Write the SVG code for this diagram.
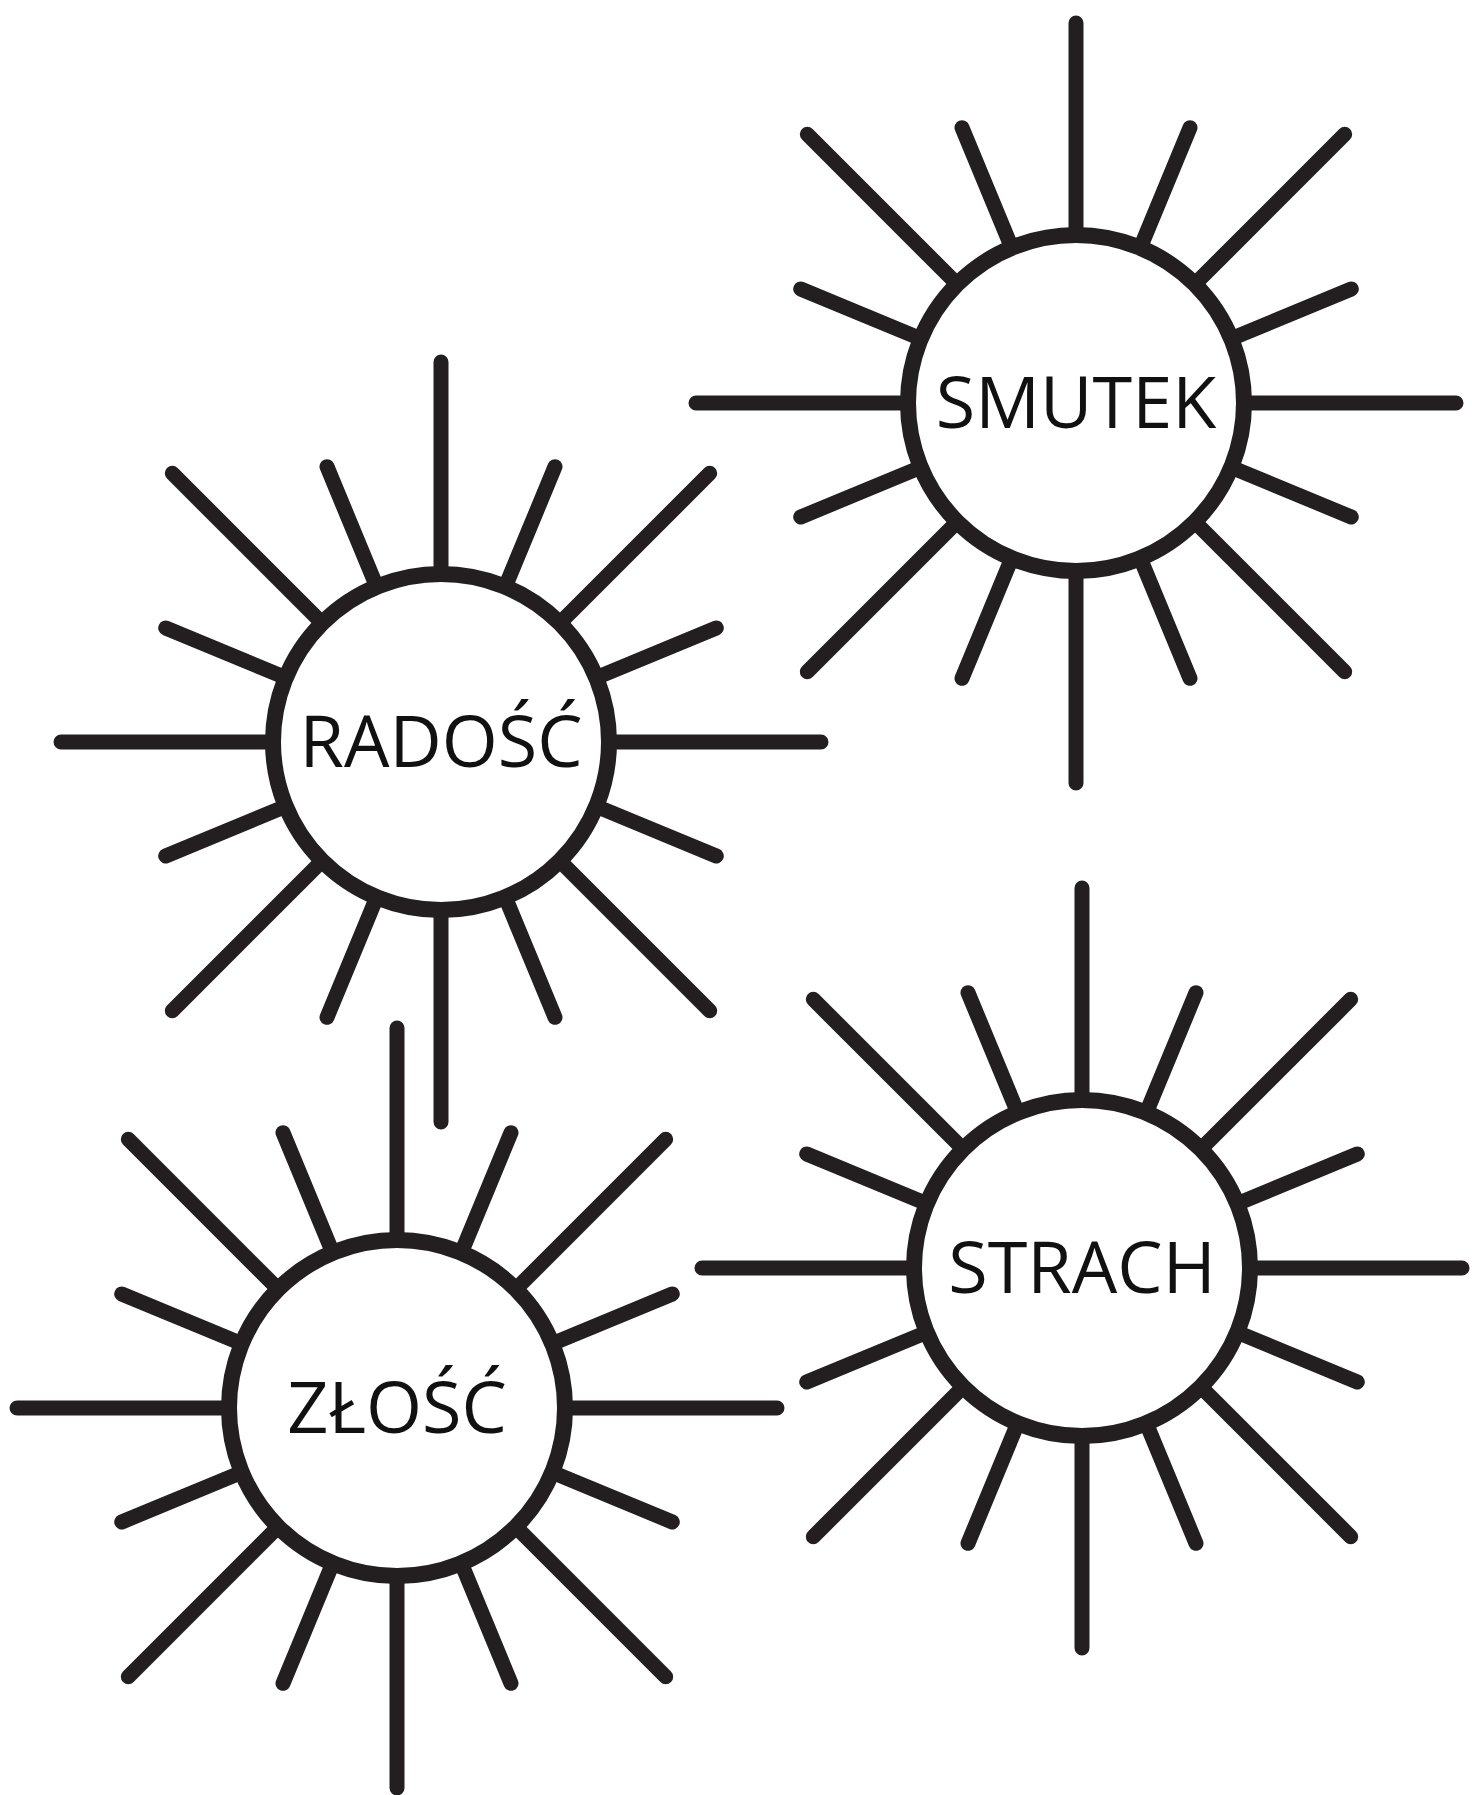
<svg xmlns="http://www.w3.org/2000/svg" xmlns:xlink="http://www.w3.org/1999/xlink" width="1472" height="1795" viewBox="0 0 1472 1795">
  <style>
    .ray { fill: none; stroke: #231f20; stroke-width: 15; stroke-linecap: round; }
    .disc { fill: #ffffff; stroke: #231f20; stroke-width: 16; }
    .label { font-family: "Open Sans", "Noto Sans", "Liberation Sans", sans-serif; font-weight: 400; font-size: 72px; fill: #111111; text-anchor: middle; }
  </style>
  <defs>
    <path id="rays" class="ray" d="M165,0L380,0 M-165,0L-380,0 M0,165L0,380 M0,-165L0,-380
      M116.7,116.7L268.7,268.7 M-116.7,116.7L-268.7,268.7 M116.7,-116.7L268.7,-268.7 M-116.7,-116.7L-268.7,-268.7
      M152.4,63.1L275.3,114.0 M-152.4,63.1L-275.3,114.0 M152.4,-63.1L275.3,-114.0 M-152.4,-63.1L-275.3,-114.0
      M63.1,152.4L114.0,275.3 M-63.1,152.4L-114.0,275.3 M63.1,-152.4L114.0,-275.3 M-63.1,-152.4L-114.0,-275.3"/>
  </defs>
  <rect width="1472" height="1795" fill="#ffffff"/>
  <g id="connectors"/>
  <g id="smutek" transform="translate(1076,403)">
    <use xlink:href="#rays" href="#rays"/>
    <circle class="disc" cx="0" cy="0" r="168"/>
    <text class="label" x="0" y="25">SMUTEK</text>
  </g>
  <g id="radosc" transform="translate(441,742)">
    <use xlink:href="#rays" href="#rays"/>
    <circle class="disc" cx="0" cy="0" r="168"/>
    <text class="label" x="0" y="25">RADOŚĆ</text>
  </g>
  <g id="zlosc" transform="translate(397,1408)">
    <use xlink:href="#rays" href="#rays"/>
    <circle class="disc" cx="0" cy="0" r="168"/>
    <text class="label" x="0" y="25">ZŁOŚĆ</text>
  </g>
  <g id="strach" transform="translate(1082,1268)">
    <use xlink:href="#rays" href="#rays"/>
    <circle class="disc" cx="0" cy="0" r="168"/>
    <text class="label" x="0" y="25">STRACH</text>
  </g>
</svg>
